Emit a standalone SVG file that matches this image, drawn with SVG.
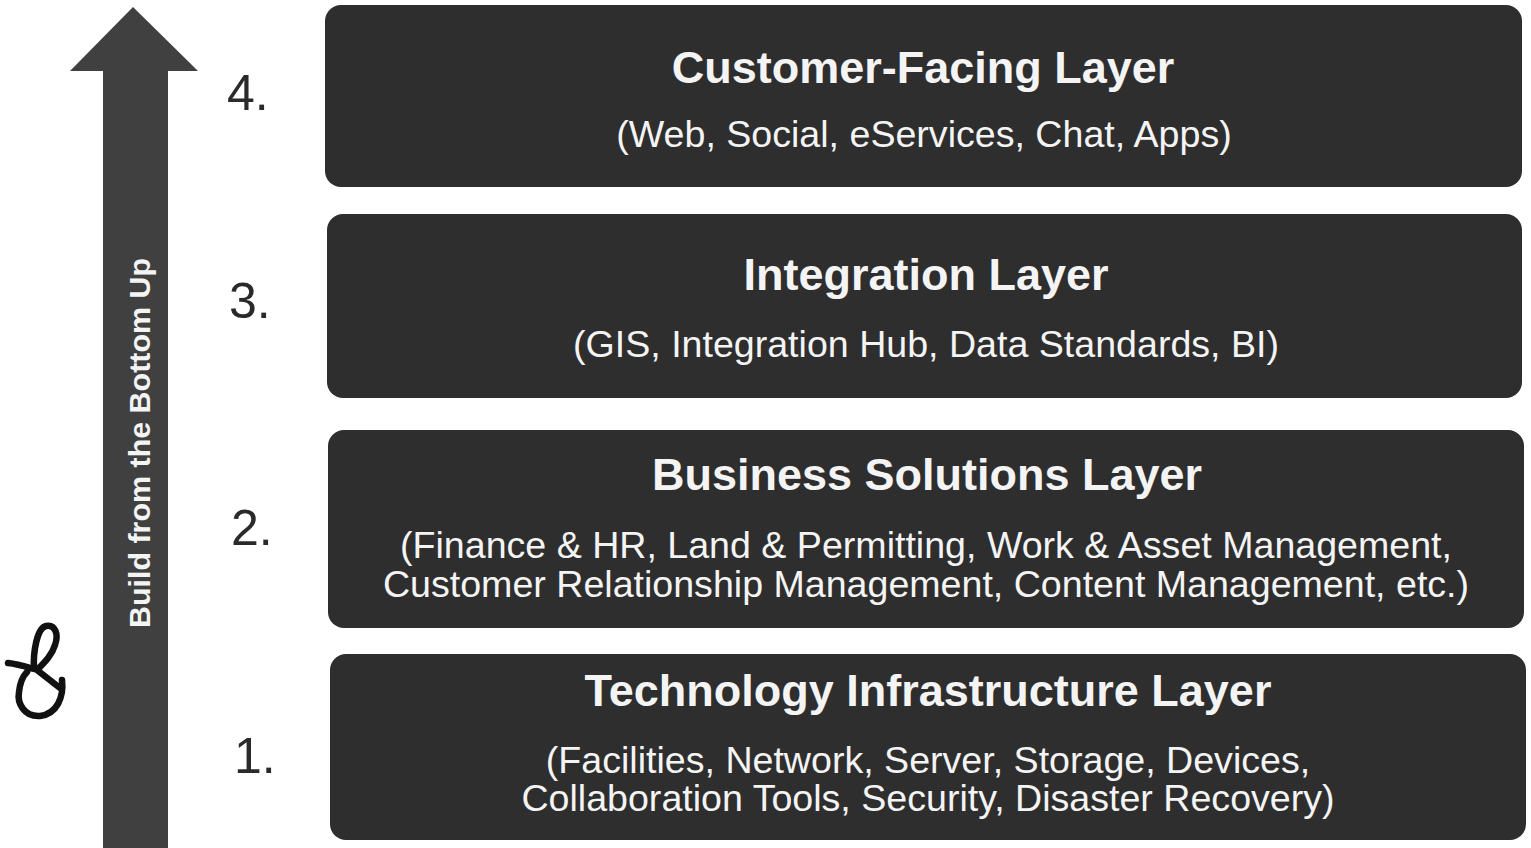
<svg xmlns="http://www.w3.org/2000/svg" width="1531" height="848" viewBox="0 0 1531 848">
  <style>
    .layer { fill: #2e2e2e; }
    .title { font-family: "Liberation Sans", Arial, sans-serif; font-weight: bold; font-size: 45px; fill: #f4f4f4; text-anchor: middle; }
    .sub { font-family: "Liberation Sans", Arial, sans-serif; font-size: 37.6px; fill: #f4f4f4; text-anchor: middle; }
    .num { font-family: "Liberation Sans", Arial, sans-serif; font-size: 50px; fill: #2a2a2a; }
    .arrow-label { font-family: "Liberation Sans", Arial, sans-serif; font-weight: bold; font-size: 30px; fill: #f4f4f4; text-anchor: middle; }
  </style>

  <rect width="1531" height="848" fill="#ffffff"/>

  <!-- upward build arrow -->
  <g id="build-arrow">
    <path d="M103,848 L103,71 L70,71 L133,7 L198,71 L168,71 L168,848 Z" fill="#404040"/>
    <text class="arrow-label" transform="translate(150,443) rotate(-90)" textLength="370" lengthAdjust="spacingAndGlyphs">Build from the Bottom Up</text>
  </g>

  <!-- handwritten mark -->
  <g id="initials">
    <path d="M8,663 C18,664 27,667 34,669 C33,652 37,628 46,626 C55,624 59,634 55,645 C52,655 45,662 37,670 L60,688 M62,680 C64,697 57,714 40,716 C24,717 17,703 19,692 C20,683 23,676 27,672" fill="none" stroke="#111" stroke-width="6.5" stroke-linecap="round" stroke-linejoin="round"/>
  </g>

  <!-- layer 4 -->
  <g id="layer-4">
    <text class="num" x="227" y="110">4.</text>
    <rect class="layer" x="325" y="5" width="1197" height="182" rx="16"/>
    <text class="title" x="923" y="83">Customer-Facing Layer</text>
    <text class="sub" x="924" y="147">(Web, Social, eServices, Chat, Apps)</text>
  </g>

  <!-- layer 3 -->
  <g id="layer-3">
    <text class="num" x="229" y="318">3.</text>
    <rect class="layer" x="327" y="214" width="1195" height="184" rx="16"/>
    <text class="title" x="926" y="290">Integration Layer</text>
    <text class="sub" x="926" y="357">(GIS, Integration Hub, Data Standards, BI)</text>
  </g>

  <!-- layer 2 -->
  <g id="layer-2">
    <text class="num" x="231" y="545">2.</text>
    <rect class="layer" x="328" y="430" width="1196" height="198" rx="16"/>
    <text class="title" x="927" y="490">Business Solutions Layer</text>
    <text class="sub" x="926" y="558">(Finance &amp; HR, Land &amp; Permitting, Work &amp; Asset Management,</text>
    <text class="sub" x="926" y="597">Customer Relationship Management, Content Management, etc.)</text>
  </g>

  <!-- layer 1 -->
  <g id="layer-1">
    <text class="num" x="234" y="773">1.</text>
    <rect class="layer" x="330" y="654" width="1196" height="186" rx="16"/>
    <text class="title" x="928" y="706">Technology Infrastructure Layer</text>
    <text class="sub" x="928" y="773">(Facilities, Network, Server, Storage, Devices,</text>
    <text class="sub" x="928" y="811">Collaboration Tools, Security, Disaster Recovery)</text>
  </g>

  <!-- no connectors between layers -->
  <g id="connectors"/>
</svg>
